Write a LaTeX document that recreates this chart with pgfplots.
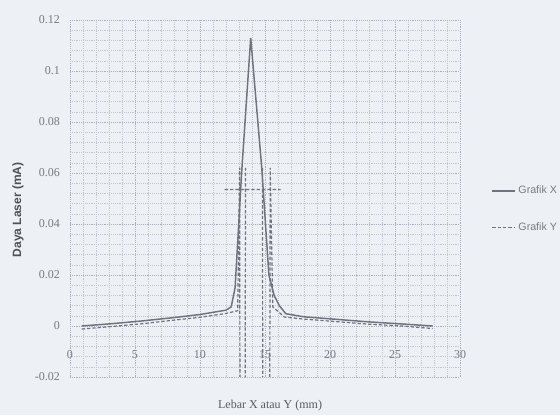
\documentclass[border=0pt]{standalone}
\usepackage{pgfplots}
\pgfplotsset{compat=1.18}
\usepackage{fontspec}
\setmainfont{Liberation Serif}
\setsansfont{Liberation Sans}
\definecolor{bg}{RGB}{237,240,245}
\definecolor{ln}{RGB}{112,114,124}
\definecolor{gridc}{RGB}{170,175,188}
\definecolor{tickc}{RGB}{120,122,130}
\begin{document}
\begin{tikzpicture}[x=0.75pt,y=0.75pt]
\path[use as bounding box, fill=bg] (-70,-38) rectangle (490,377);
\begin{axis}[
  at={(0,0)}, anchor=south west,
  scale only axis, width=292.5pt, height=267.75pt,
  xmin=0, xmax=30, ymin=-0.02, ymax=0.12,
  xtick={0,5,10,15,20,25,30},
  xticklabels={0,5,10,15,20,25,30},
  ytick={-0.02,0,0.02,0.04,0.06,0.08,0.1,0.12},
  yticklabels={{-0.02},0,0.02,0.04,0.06,0.08,0.1,0.12},
  minor x tick num=4, minor y tick num=4,
  grid=both,
  major grid style={gridc, densely dotted, line width=0.6pt},
  minor grid style={gridc!70, densely dotted, line width=0.4pt},
  axis line style={draw=none},
  tick style={draw=none},
  xticklabel style={anchor=center, yshift=16.5pt, font=\small, text=tickc},
  yticklabel style={font=\small, text=tickc, xshift=-4pt},
  xlabel={Lebar X atau Y (mm)},
  xlabel style={at={(axis description cs:0.513,-0.08)}, anchor=center, font=\small, text=ln!80!black},
  ylabel={\sffamily\bfseries Daya Laser (mA)},
  ylabel style={at={(axis description cs:-0.133,0.468)}, anchor=center, rotate=0, font=\small, text=ln!70!black},
  legend style={at={(axis description cs:1.07,0.47)}, anchor=west, draw=none, fill=none, font=\sffamily\footnotesize, text=tickc, row sep=16pt, legend cell align=left},
  unbounded coords=jump,
]
\addplot[ln, line width=1.1pt] coordinates {
(0.9,0.0) (3,0.0008) (5.6,0.002) (8,0.0033) (10,0.0045) (12,0.0062) (12.4,0.0075)
(12.7,0.015) (13.2,0.06) (13.9,0.113) (14.75,0.062) (15.3,0.02) (15.7,0.012)
(16.1,0.008) (16.6,0.0048) (18,0.0036) (20.5,0.0026) (23,0.0016) (25.5,0.0008) (27.9,0.0)
};
\addlegendentry{Grafik X}
\addplot[ln, line width=0.9pt, dash pattern=on 2.5pt off 1.5pt] coordinates {
(0.9,-0.0012) (3,-0.0003) (5.6,0.0009) (8,0.0023) (10,0.0034) (12,0.0049) (12.9,0.006)
(13.05,0.062) (13.28,-0.8) (13.5,0.062)
(13.6,nan)
(14.8,0.062) (15.08,-0.8) (15.4,0.062)
(15.6,0.0075) (16.5,0.0035) (18,0.0027) (20.5,0.0017) (23,0.0007) (25.5,0.0) (27.9,-0.001)
(27.9,nan)
(11.9,0.0535) (16.2,0.0535)
};
\addlegendentry{Grafik Y}
\end{axis}
\end{tikzpicture}
\end{document}
